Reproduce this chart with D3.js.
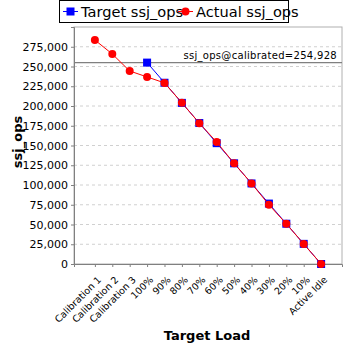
<!DOCTYPE html>
<html><head><meta charset="utf-8">
<script src="https://cdn.jsdelivr.net/npm/d3@7"></script>
<style>body{margin:0;background:#fff}svg{display:block}</style>
</head><body>
<script>
const categories = ["Calibration 1","Calibration 2","Calibration 3","100%","90%","80%","70%","60%","50%","40%","30%","20%","10%","Active Idle"];
const targetOps = [null,null,null,254928,229435,203942,178450,152957,127464,101971,76478,50986,25493,0];
const actualOps = [283500,265800,244300,236800,229200,204000,178300,154300,127400,102000,75000,50900,25400,0];
const yTicks = [0,25000,50000,75000,100000,125000,150000,175000,200000,225000,250000,275000];
const calibrated = 254928;

const W=348,H=348, L=74, R=342, T=27, B=264;
const svg=d3.select("body").append("svg").attr("width",W).attr("height",H).style("font-family","DejaVu Sans");
const x=d3.scalePoint().domain(categories).range([L,R]).padding(1.2);
const y=d3.scaleLinear().domain([0,300000]).range([B,T]);

// grid
svg.append("g").selectAll("line").data(yTicks.filter(d=>d>0)).join("line")
 .attr("x1",L).attr("x2",R).attr("y1",d=>y(d)).attr("y2",d=>y(d))
 .attr("stroke","#d0d0d0").attr("stroke-dasharray","3,3").attr("stroke-width",1);
// border
svg.append("rect").attr("x",L).attr("y",T).attr("width",R-L).attr("height",B-T).attr("fill","none").attr("stroke","#b0b0b0");

const ya=svg.append("g").attr("transform",`translate(${L},0)`).call(d3.axisLeft(y).tickValues(yTicks).tickFormat(d3.format(",")).tickSize(3));
ya.selectAll("text").attr("font-size",11).attr("fill","#000").attr("font-family","DejaVu Sans");
ya.selectAll("path,line").attr("stroke","#808080");
const xa=svg.append("g").attr("transform",`translate(0,${B})`).call(d3.axisBottom(x).tickSize(3));
xa.selectAll("path,line").attr("stroke","#808080");
xa.selectAll("text").attr("font-size",9.5).attr("fill","#000").attr("font-family","DejaVu Sans")
 .attr("text-anchor","end").attr("x",0).attr("y",0).attr("dy","0.35em")
 .attr("transform","translate(4,14) rotate(-45)");

// calibrated line
svg.append("line").attr("x1",L).attr("x2",R).attr("y1",y(calibrated)).attr("y2",y(calibrated)).attr("stroke","#808080").attr("stroke-width",1.2);
svg.append("text").attr("x",R-5).attr("y",y(calibrated)-4).attr("text-anchor","end").attr("font-size",10).attr("letter-spacing","0.3px").text("ssj_ops@calibrated="+d3.format(",")(calibrated));

const tData=categories.map((c,i)=>({c,v:targetOps[i]})).filter(d=>d.v!==null);
const aData=categories.map((c,i)=>({c,v:actualOps[i]}));
const line=d3.line().x(d=>x(d.c)).y(d=>y(d.v));
svg.append("path").datum(tData).attr("d",line).attr("fill","none").attr("stroke","#0000ff").attr("stroke-width",1);
svg.selectAll(".ts").data(tData).join("rect").attr("x",d=>x(d.c)-4).attr("y",d=>y(d.v)-4).attr("width",8).attr("height",8).attr("fill","#0000ff");
svg.append("path").datum(aData).attr("d",line).attr("fill","none").attr("stroke","#ff0000").attr("stroke-width",1);
svg.selectAll(".ac").data(aData).join("circle").attr("cx",d=>x(d.c)).attr("cy",d=>y(d.v)).attr("r",4).attr("fill","#ff0000");

// axis titles
svg.append("text").attr("x",207).attr("y",340).attr("text-anchor","middle").attr("font-size",13).attr("font-weight","bold").text("Target Load");
svg.append("text").attr("transform","translate(22,142) rotate(-90)").attr("text-anchor","middle").attr("font-size",13).attr("font-weight","bold").text("ssj_ops");

// legend
const lg=svg.append("g");
lg.append("rect").attr("x",59.5).attr("y",0.5).attr("width",229).attr("height",22).attr("fill","#fff").attr("stroke","#000");
lg.append("line").attr("x1",63).attr("x2",78).attr("y1",11.5).attr("y2",11.5).attr("stroke","#0000ff");
lg.append("rect").attr("x",66.5).attr("y",7.5).attr("width",8).attr("height",8).attr("fill","#0000ff");
lg.append("text").attr("x",81).attr("y",17).attr("font-size",14.6).text("Target ssj_ops");
lg.append("line").attr("x1",178).attr("x2",193).attr("y1",11.5).attr("y2",11.5).attr("stroke","#ff0000");
lg.append("circle").attr("cx",185.5).attr("cy",11.5).attr("r",4).attr("fill","#ff0000");
lg.append("text").attr("x",196).attr("y",17).attr("font-size",14.6).text("Actual ssj_ops");
</script>
</body></html>
